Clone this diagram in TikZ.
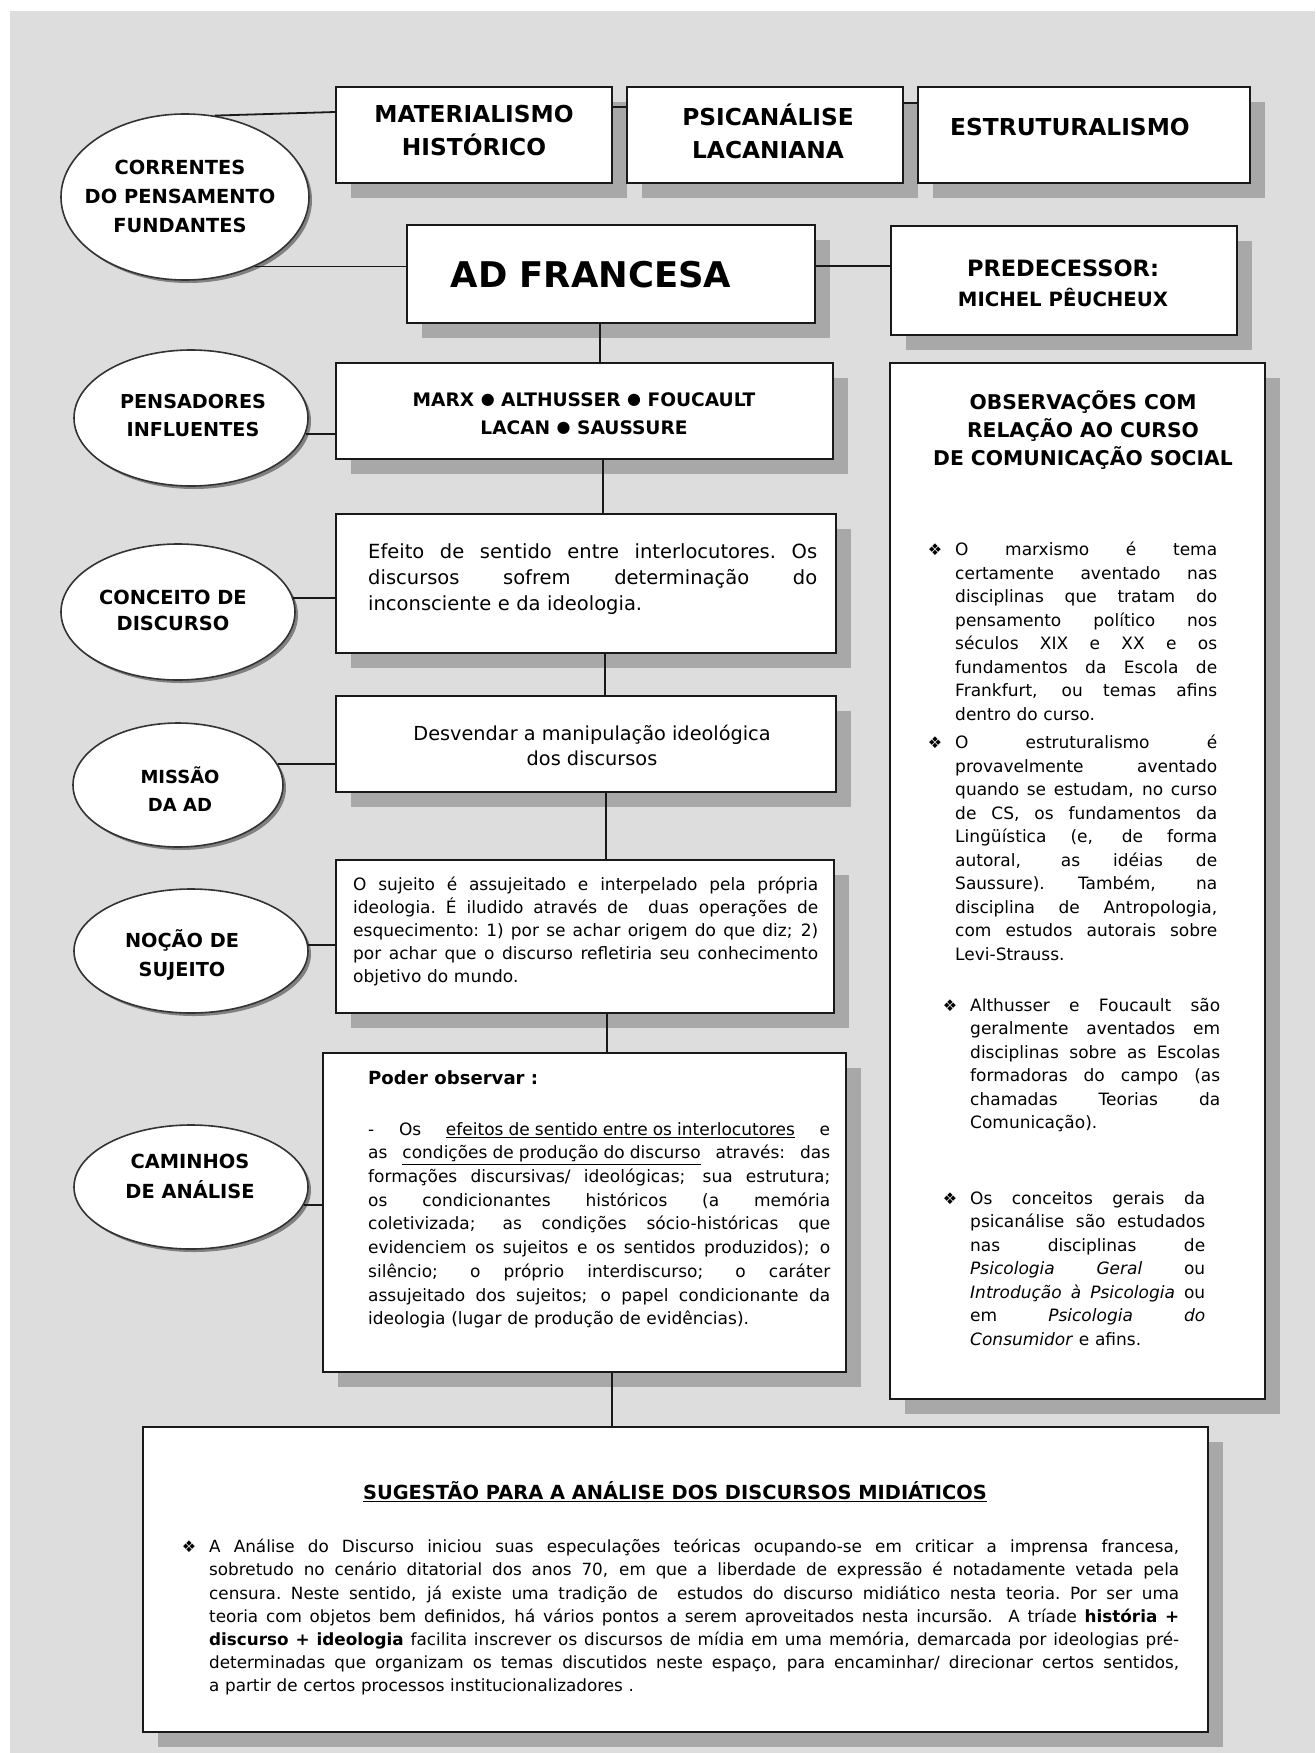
\documentclass[tikz,border=0pt]{standalone}
\usepackage{fontspec}
\setmainfont{DejaVu Sans}[ItalicFont={DejaVu Sans Oblique},BoldFont={DejaVu Sans Bold},BoldItalicFont={DejaVu Sans Bold Oblique}]
\usetikzlibrary{shapes.geometric,shadows,calc}
\definecolor{bgg}{RGB}{221,221,221}
\definecolor{shd}{RGB}{168,168,168}
\newcommand\fs[2]{\fontsize{#1}{#2}\selectfont}
\newcommand\jl[2]{\leavevmode\hbox to #1{\spaceskip=0.3em plus 1fil\xspaceskip=0.3em plus 1fil\relax #2}}
\newcommand\bul{\leavevmode\llap{{\fontsize{16}{16}\selectfont ❖}\hspace{13pt}}}
\newcommand\dotb{\raisebox{1.8pt}{\fontsize{16}{16}\selectfont ●}}
\begin{document}
\begin{tikzpicture}[x=1pt,y=-1pt,
  bx/.style={rectangle, draw=black!90, line width=2pt, fill=white, inner sep=0pt,
     general shadow={fill=shd, shadow xshift=15pt, shadow yshift=-15pt}},
  el/.style={ellipse, draw=black!80, line width=1.6pt, fill=white, inner sep=0pt,
     general shadow={fill=black!50, shadow xshift=3pt, shadow yshift=-3pt}},
  cn/.style={draw=black!90, line width=1.8pt},
  hd/.style={align=center, inner sep=0pt},
  tx/.style={inner sep=0pt, align=left, anchor=north west}]
\useasboundingbox (0,0) rectangle (1315,1753);
\fill[white] (0,0) rectangle (1315,1753);
\fill[bgg] (10,11) rectangle (1315,1753);

% boxes
\node[bx, minimum width=276pt, minimum height=96pt] (b1) at (474,135) {};
\node[bx, minimum width=276pt, minimum height=96pt] (b2) at (765,135) {};
\node[bx, minimum width=332pt, minimum height=96pt] (b3) at (1084,135) {};
\node[bx, minimum width=408pt, minimum height=98pt] (bad) at (611,274) {};
\node[bx, minimum width=346pt, minimum height=109pt] (bpre) at (1064,280.5) {};
\node[bx, minimum width=497pt, minimum height=96pt] (bmarx) at (584.5,411) {};
\node[bx, minimum width=500pt, minimum height=139pt] (bconc) at (586,583.5) {};
\node[bx, minimum width=500pt, minimum height=96pt] (bmiss) at (586,744) {};
\node[bx, minimum width=498pt, minimum height=153pt] (bnoc) at (585,936.5) {};
\node[bx, minimum width=523pt, minimum height=319pt] (bcam) at (584.5,1212.5) {};
\node[bx, minimum width=375pt, minimum height=1036pt] (bobs) at (1077.5,881) {};
\node[bx, minimum width=1065pt, minimum height=305pt] (bsug) at (675.5,1579.5) {};

% ellipses
\node[el, minimum width=248pt, minimum height=166pt] (e1) at (185,197) {};
\node[el, minimum width=234pt, minimum height=136pt] (e2) at (191,418) {};
\node[el, minimum width=234pt, minimum height=136pt] (e3) at (178,612) {};
\node[el, minimum width=210pt, minimum height=124pt] (e4) at (178,785) {};
\node[el, minimum width=234pt, minimum height=124pt] (e5) at (191,951) {};
\node[el, minimum width=234pt, minimum height=124pt] (e6) at (191,1187) {};

% connectors
\draw[cn] (e1.70) -- ([yshift=23pt]b1.west);
\draw[cn] ([yshift=28pt]b1.east) -- ([yshift=28pt]b2.west);
\draw[cn] ([yshift=32pt]b2.east) -- ([yshift=32pt]b3.west);
\draw[cn] (e1.315) -- (e1.315 -| bad.west);
\draw[cn] ([yshift=8pt]bad.east) -- ([yshift=8pt]bad.east -| bpre.west);
\draw[cn] ([xshift=-11pt]bad.south) -- ([xshift=-11pt]bad.south |- bmarx.north);
\draw[cn] (e2.352.5) -- (e2.352.5 -| bmarx.west);
\draw[cn] ([xshift=18.5pt]bmarx.south) -- ([xshift=18.5pt]bmarx.south |- bconc.north);
\draw[cn] (e3.7) -- (e3.7 -| bconc.west);
\draw[cn] ([xshift=19pt]bconc.south) -- ([xshift=19pt]bconc.south |- bmiss.north);
\draw[cn] (e4.12) -- (e4.12 -| bmiss.west);
\draw[cn] ([xshift=20pt]bmiss.south) -- ([xshift=20pt]bmiss.south |- bnoc.north);
\draw[cn] (e5.3.5) -- (e5.3.5 -| bnoc.west);
\draw[cn] ([xshift=22pt]bnoc.south) -- ([xshift=22pt]bnoc.south |- bcam.north);
\draw[cn] (e6.351) -- (e6.351 -| bcam.west);
\draw[cn] ([xshift=27.5pt]bcam.south) -- ([xshift=27.5pt]bcam.south |- bsug.north);

% heading texts
\node[hd, font=\bfseries\fs{23.3}{33}] (t1) at (474,131) {MATERIALISMO\\HISTÓRICO};
\node[hd, font=\bfseries\fs{23.3}{33}] (t2) at (768,131) {PSICANÁLISE\\LACANIANA};
\node[hd, font=\bfseries\fs{23.3}{33}] (t3) at (1070,127) {ESTRUTURALISMO};
\node[hd, font=\bfseries\fs{35.4}{40}] (tad) at (591,275) {AD FRANCESA};
\node[hd, font=\bfseries\fs{22.5}{30}] (tpre) at (1063,283) {PREDECESSOR:\\{\fs{19.7}{30}MICHEL PÊUCHEUX}};
\node[hd, font=\bfseries\fs{18.6}{28}] (tmarx) at (584,414) {MARX \dotb{} ALTHUSSER \dotb{} FOUCAULT\\LACAN \dotb{} SAUSSURE};
\node[hd, font=\bfseries\fs{20.3}{28}] (tobs) at (1083,430) {OBSERVAÇÕES COM\\RELAÇÃO AO CURSO\\DE COMUNICAÇÃO SOCIAL};
\node[hd, font=\bfseries\fs{19.4}{29}] (te1) at (180,196) {CORRENTES\\DO PENSAMENTO\\FUNDANTES};
\node[hd, font=\bfseries\fs{19.2}{28}] (te2) at (193,416) {PENSADORES\\INFLUENTES};
\node[hd, font=\bfseries\fs{19.4}{26}] (te3) at (173,610) {CONCEITO DE\\DISCURSO};
\node[hd, font=\bfseries\fs{18}{28}] (te4) at (180,789) {MISSÃO\\DA AD};
\node[hd, font=\bfseries\fs{19.3}{29}] (te5) at (182,955) {NOÇÃO DE\\SUJEITO};
\node[hd, font=\bfseries\fs{19.4}{30}] (te6) at (190,1176) {CAMINHOS\\DE ANÁLISE};
\node[hd, font=\bfseries\fs{19.4}{24}] (tsug) at (675,1492) {\underline{SUGESTÃO PARA A ANÁLISE DOS DISCURSOS MIDIÁTICOS}};

% body texts
\node[tx, text width=449pt, font=\fs{19.5}{26}] (tconc) at (368,543) {\noindent
\jl{449pt}{Efeito de sentido entre interlocutores. Os}\\
\jl{449pt}{discursos sofrem determinação do}\\
inconsciente e da ideologia.};
\node[hd, font=\fs{19.3}{25}] (tmiss) at (592,745) {Desvendar a manipulação ideológica\\dos discursos};
\node[tx, text width=465pt, font=\fs{17}{23}] (tnoc) at (353,877) {\noindent
\jl{465pt}{O sujeito é assujeitado e interpelado pela própria}\\
\jl{465pt}{ideologia. É iludido através de \ duas operações de}\\
\jl{465pt}{esquecimento: 1) por se achar origem do que diz; 2)}\\
\jl{465pt}{por achar que o discurso refletiria seu conhecimento}\\
objetivo do mundo.};
\node[inner sep=0pt, anchor=west, font=\bfseries\fs{18.1}{22}] (tpod) at (368,1078) {Poder observar :};
\node[tx, text width=462pt, font=\fs{17}{23.7}] (tcam) at (368,1122) {\noindent
\jl{462pt}{- Os \underline{efeitos de sentido entre os interlocutores} e}\\
\jl{462pt}{as \underline{condições de produção do discurso} através: das}\\
\jl{462pt}{formações discursivas/ ideológicas; sua estrutura;}\\
\jl{462pt}{os condicionantes históricos (a memória}\\
\jl{462pt}{coletivizada; as condições sócio-históricas que}\\
\jl{462pt}{evidenciem os sujeitos e os sentidos produzidos); o}\\
\jl{462pt}{silêncio; o próprio interdiscurso; o caráter}\\
\jl{462pt}{assujeitado dos sujeitos; o papel condicionante da}\\
ideologia (lugar de produção de evidências).};

\node[tx, text width=262pt, font=\fs{17}{23.5}] (tob1) at (955,542) {\noindent\bul
\jl{262pt}{O marxismo é tema}\\
\jl{262pt}{certamente aventado nas}\\
\jl{262pt}{disciplinas que tratam do}\\
\jl{262pt}{pensamento político nos}\\
\jl{262pt}{séculos XIX e XX e os}\\
\jl{262pt}{fundamentos da Escola de}\\
\jl{262pt}{Frankfurt, ou temas afins}\\
dentro do curso.};
\node[tx, text width=262pt, font=\fs{17}{23.5}] (tob2) at (955,735) {\noindent\bul
\jl{262pt}{O estruturalismo é}\\
\jl{262pt}{provavelmente aventado}\\
\jl{262pt}{quando se estudam, no curso}\\
\jl{262pt}{de CS, os fundamentos da}\\
\jl{262pt}{Lingüística (e, de forma}\\
\jl{262pt}{autoral, as idéias de}\\
\jl{262pt}{Saussure). Também, na}\\
\jl{262pt}{disciplina de Antropologia,}\\
\jl{262pt}{com estudos autorais sobre}\\
Levi-Strauss.};
\node[tx, text width=250pt, font=\fs{17}{23.5}] (tob3) at (970,998) {\noindent\bul
\jl{250pt}{Althusser e Foucault são}\\
\jl{250pt}{geralmente aventados em}\\
\jl{250pt}{disciplinas sobre as Escolas}\\
\jl{250pt}{formadoras do campo (as}\\
\jl{250pt}{chamadas Teorias da}\\
Comunicação).};
\node[tx, text width=235pt, font=\fs{17}{23.5}] (tob4) at (970,1191) {\noindent\bul
\jl{235pt}{Os conceitos gerais da}\\
\jl{235pt}{psicanálise são estudados}\\
\jl{235pt}{nas disciplinas de}\\
\jl{235pt}{\textit{Psicologia Geral} ou}\\
\jl{235pt}{\textit{Introdução à Psicologia} ou}\\
\jl{235pt}{em \textit{Psicologia} \textit{do}}\\
\textit{Consumidor} e afins.};

\node[tx, text width=970pt, font=\fs{16.8}{23.2}] (tsugb) at (209,1539) {\noindent\bul
\jl{970pt}{A Análise do Discurso iniciou suas especulações teóricas ocupando-se em criticar a imprensa francesa,}\\
\jl{970pt}{sobretudo no cenário ditatorial dos anos 70, em que a liberdade de expressão é notadamente vetada pela}\\
\jl{970pt}{censura. Neste sentido, já existe uma tradição de \ estudos do discurso midiático nesta teoria. Por ser uma}\\
\jl{970pt}{teoria com objetos bem definidos, há vários pontos a serem aproveitados nesta incursão. \ A tríade \textbf{história +}}\\
\jl{970pt}{\textbf{discurso + ideologia} facilita inscrever os discursos de mídia em uma memória, demarcada por ideologias pré-}\\
\jl{970pt}{determinadas que organizam os temas discutidos neste espaço, para encaminhar/ direcionar certos sentidos,}\\
a partir de certos processos institucionalizadores .};
\end{tikzpicture}
\end{document}
